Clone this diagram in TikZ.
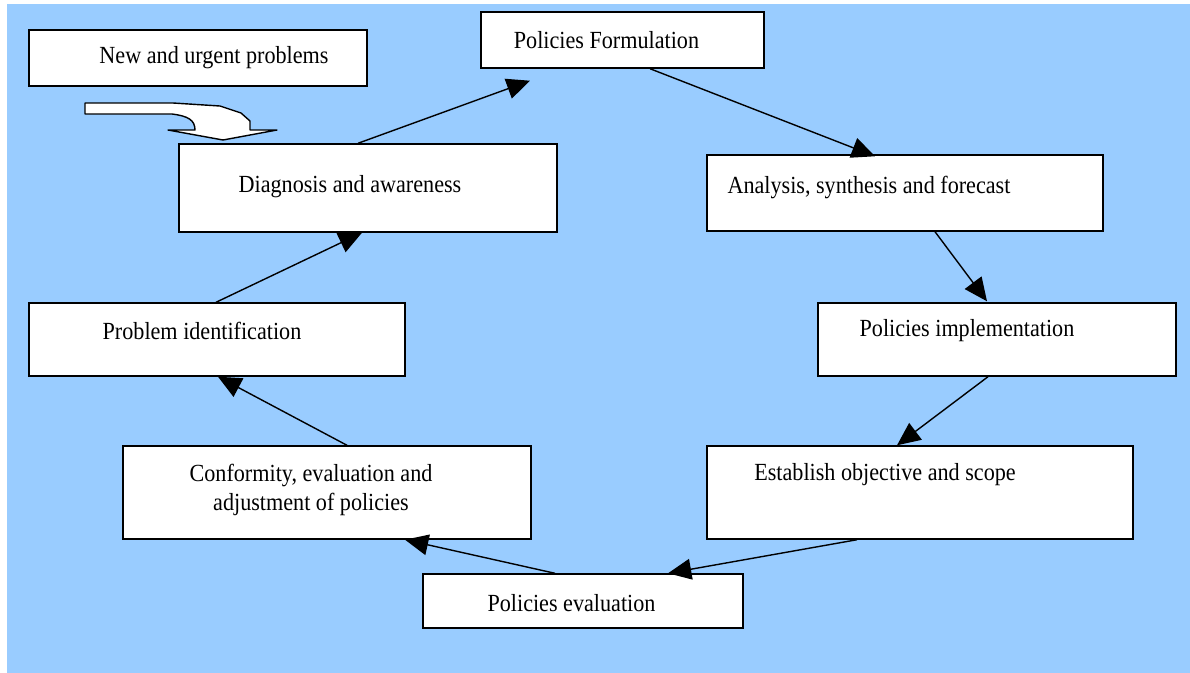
\documentclass[tikz,border=0pt]{standalone}
\usepackage{fontspec}
\setmainfont[FakeStretch=0.9]{Liberation Serif}
\usepackage{xcolor}
\usepackage{tikz}
\usetikzlibrary{arrows.meta, calc}
\definecolor{skyblue}{HTML}{99CCFF}
\tikzset{
  %% Plain white box
  pbox/.style={
    rectangle, draw=black, fill=white,
    line width=1pt, inner sep=0pt
  },
  %% Box text
  ptxt/.style={
    font=\fontsize{17.5}{21}\selectfont,
    align=center, inner sep=0pt
  },
  %% Arrow
  arr/.style={-{Triangle[length=0.58cm,width=0.52cm]},
              draw=black, line width=1pt},
}

\begin{document}
\begin{tikzpicture}[x=0.025cm, y=-0.025cm]
  \useasboundingbox (0,0) rectangle (1190,672);
  %% background
  \fill[white] (0,0) rectangle (1190,672);
  \fill[skyblue] (7,4) rectangle (1191,673);

  %% boxes
  \node[pbox, minimum width=8.45cm, minimum height=1.4cm]   (urgent) at (198,58)    {};
  \node[pbox, minimum width=7.075cm, minimum height=1.4cm]  (form)   at (622.5,40)  {};
  \node[pbox, minimum width=9.45cm, minimum height=2.2cm]   (diag)   at (368,188)   {};
  \node[pbox, minimum width=9.9cm, minimum height=1.9cm]    (anal)   at (905,193)   {};
  \node[pbox, minimum width=9.4cm, minimum height=1.825cm]  (ident)  at (217,339.5) {};
  \node[pbox, minimum width=8.95cm, minimum height=1.825cm] (impl)   at (997,339.5) {};
  \node[pbox, minimum width=10.2cm, minimum height=2.325cm] (conf)   at (327,492.5) {};
  \node[pbox, minimum width=10.65cm, minimum height=2.325cm](estab)  at (920,492.5) {};
  \node[pbox, minimum width=8cm, minimum height=1.35cm]     (evalu)  at (583,601)   {};

  %% texts
  \node[ptxt] (urgent-t) at (214,58)   {New and urgent problems};
  \node[ptxt] (form-t)   at (606.5,40) {Policies Formulation};
  \node[ptxt] (diag-t)   at (350,187)  {Diagnosis and awareness};
  \node[ptxt] (anal-t)   at (869,187)  {Analysis, synthesis and forecast};
  \node[ptxt] (ident-t)  at (202,331)  {Problem identification};
  \node[ptxt] (impl-t)   at (967,331)  {Policies implementation};
  \node[ptxt] (conf-t)   at (311,490)  {Conformity, evaluation and\\adjustment of policies};
  \node[ptxt] (estab-t)  at (885,475)  {Establish objective and scope};
  \node[ptxt] (evalu-t)  at (571.5,603) {Policies evaluation};

  %% bent block arrow
  \draw[fill=white, line width=1pt, line join=round]
    (85,103) -- (85,114) -- (172,114)
    .. controls (188,116) and (195,120) .. (195,130)
    -- (168,130) -- (223,140) -- (277,130) -- (250,130) -- (250,121)
    -- (241,113) -- (220,106) -- (173,103) -- cycle;

  %% cycle
  \draw[arr] ($(diag.north)+(-10,0)$)  -- ($(form.south)+(-92.5,12)$);
  \draw[arr] ($(form.south)+(27.5,0)$) -- ($(anal.north)+(-30,2)$);
  \draw[arr] ($(anal.south)+(30,0)$)   -- ($(impl.north)+(-10,-1)$);
  \draw[arr] ($(impl.south)+(-9,0)$)   -- ($(estab.north)+(-23,0)$);
  \draw[arr] ($(estab.south)+(-63,0)$) -- ($(evalu.north)+(85,0)$);
  \draw[arr] ($(evalu.north)+(-28,0)$) -- ($(conf.south)+(78,0)$);
  \draw[arr] ($(conf.north)+(20,0)$)   -- ($(ident.south)+(1,0)$);
  \draw[arr] ($(ident.north)+(-1,0)$)  -- ($(diag.south)+(-6,0)$);
\end{tikzpicture}
\end{document}
